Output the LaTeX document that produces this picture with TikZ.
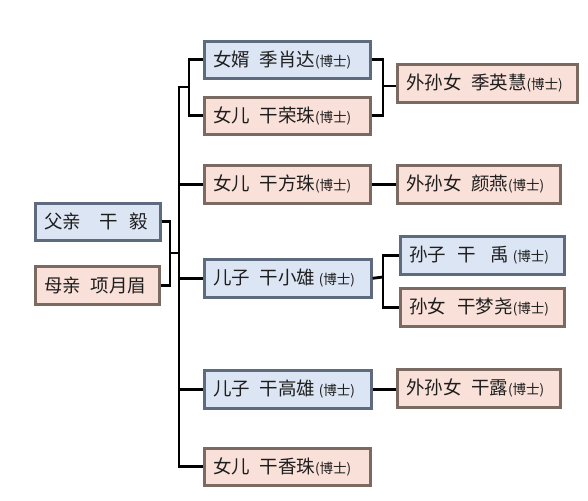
\documentclass[tikz,border=0pt]{standalone}
\usepackage{fontspec}
\setmainfont{Noto Sans CJK SC}
\definecolor{blueF}{HTML}{DCE5F4}
\definecolor{blueD}{HTML}{5E6B7E}
\definecolor{pinkF}{HTML}{F9E0D8}
\definecolor{pinkD}{HTML}{7B6A62}
\definecolor{txt}{HTML}{1E1E1E}
\newcommand\boshi{{\fontsize{13.5}{14}\selectfont(博士)}}
\begin{document}
\begin{tikzpicture}[x=1pt,y=-1pt,
  box/.style={draw, line width=2.6pt, inner xsep=9pt, inner ysep=0pt, anchor=north west,
    font=\fontsize{18.5}{20}\selectfont, text=txt, align=left},
  bl/.style={box, fill=blueF, draw=blueD},
  pk/.style={box, fill=pinkF, draw=pinkD},
  ln/.style={line width=2.8pt, black}]
\useasboundingbox[fill=white] (0,0) rectangle (588,500);
% parents
\node[bl, minimum width=125, minimum height=37, text width=107] (fa) at (34,202) {父亲\hspace{1em}干\hspace{0.6em}毅};
\node[pk, minimum width=124, minimum height=38, text width=106] (mo) at (34,265) {母亲\hspace{0.5em}项月眉};
% children
\node[bl, minimum width=166, minimum height=37, text width=148] (b1) at (203,40) {女婿\hspace{0.5em}季肖达\boshi};
\node[pk, minimum width=166, minimum height=37, text width=148] (b2) at (203,96) {女儿\hspace{0.5em}干荣珠\boshi};
\node[pk, minimum width=166, minimum height=38, text width=148] (b3) at (203,164) {女儿\hspace{0.5em}干方珠\boshi};
\node[bl, minimum width=167, minimum height=38, text width=149] (b4) at (203,258) {儿子\hspace{0.5em}干小雄\hspace{0.2em}\boshi};
\node[bl, minimum width=167, minimum height=38, text width=149] (b5) at (203,369) {儿子\hspace{0.5em}干高雄\hspace{0.2em}\boshi};
\node[pk, minimum width=166, minimum height=37, text width=148] (b6) at (203,447) {女儿\hspace{0.5em}干香珠\boshi};
% grandchildren
\node[pk, minimum width=180, minimum height=38, text width=162] (g1) at (396,63) {外孙女\hspace{0.5em}季英慧\boshi};
\node[pk, minimum width=163, minimum height=38, text width=145] (g2) at (396,164) {外孙女\hspace{0.5em}颜燕\boshi};
\node[bl, minimum width=164, minimum height=38, text width=146] (g3) at (399,235) {孙子\hspace{0.6em}干\hspace{0.8em}禹\hspace{0.2em}\boshi};
\node[pk, minimum width=164, minimum height=38, text width=146] (g4) at (399,287) {孙女\hspace{0.6em}干梦尧\boshi};
\node[pk, minimum width=163, minimum height=38, text width=145] (g5) at (396,368) {外孙女\hspace{0.5em}干露\boshi};
% connectors
\coordinate (pj) at (170,253);
\coordinate (tk) at (179,253);
\coordinate (t1) at (179,87);
\coordinate (sj) at (189,87);
\coordinate (r1) at (383,86);
\coordinate (r2) at (383,277);
\draw[ln] (fa.east) -| (pj) |- (mo.east);
\draw[ln] (pj) -- (tk);
\draw[ln] (sj) -- (t1) |- (b6.west);
\draw[ln] (b1.west) -| (sj) |- (b2.west);
\draw[ln] (b3.west) -- (b3.west -| tk);
\draw[ln] (b4.west) -- (b4.west -| tk);
\draw[ln] (b5.west) -- (b5.west -| tk);
\draw[ln] (b1.east) -| (r1) |- (b2.east);
\draw[ln] (r1) -- (r1 -| g1.west);
\draw[ln] (b3.east) -- (g2.west);
\draw[ln] (g3.west) -| (r2) |- (g4.west);
\draw[ln] (b4.east) -- (r2);
\draw[ln] (b5.east) -- (b5.east -| g5.west);
\end{tikzpicture}
\end{document}
